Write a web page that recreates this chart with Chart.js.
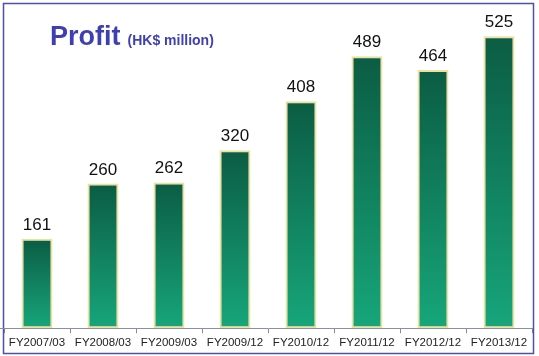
<!DOCTYPE html>
<html>
<head>
<meta charset="utf-8">
<script src="https://cdn.jsdelivr.net/npm/chart.js@4"></script>
<style>
html,body{margin:0;padding:0;background:#fff;}
#wrap{width:539px;height:356px;position:relative;}
</style>
</head>
<body>
<div id="wrap"><canvas id="c" width="539" height="356"></canvas></div>
<script>
const categories = ["FY2007/03","FY2008/03","FY2009/03","FY2009/12","FY2010/12","FY2011/12","FY2012/12","FY2013/12"];
const profit = [161, 260, 262, 320, 408, 489, 464, 525];
const titleMain = "Profit";
const titleSub = "(HK$ million)";

const decor = {
  id: 'decor',
  beforeDraw(chart) {
    const ctx = chart.ctx;
    ctx.save();
    ctx.fillStyle = '#fff';
    ctx.fillRect(0, 0, chart.width, chart.height);
    ctx.restore();
  },
  afterDraw(chart) {
    const ctx = chart.ctx;
    ctx.save();
    ctx.strokeStyle = '#4d4fa8';
    ctx.lineWidth = 1.5;
    ctx.strokeRect(3.5, 3.5, 530, 350);
    const yb = chart.scales.y.getPixelForValue(0);
    ctx.strokeStyle = '#8a8fa8';
    ctx.lineWidth = 1;
    ctx.beginPath();
    ctx.moveTo(0, Math.round(yb) + 0.5);
    ctx.lineTo(chart.chartArea.left, Math.round(yb) + 0.5);
    ctx.stroke();
    ctx.fillStyle = '#3e3fb3';
    ctx.textBaseline = 'alphabetic';
    ctx.textAlign = 'left';
    ctx.font = 'bold 27px "Liberation Sans", Arial, sans-serif';
    ctx.fillText(titleMain, 50, 45);
    const w = ctx.measureText(titleMain).width;
    ctx.font = 'bold 14px "Liberation Sans", Arial, sans-serif';
    ctx.fillText(titleSub, 50 + w + 7, 45);
    const meta = chart.getDatasetMeta(0);
    ctx.fillStyle = '#111';
    ctx.textAlign = 'center';
    ctx.font = '17px "Liberation Sans", Arial, sans-serif';
    meta.data.forEach((bar, i) => {
      ctx.fillText(String(profit[i]), bar.x, bar.y - 9);
    });
    ctx.restore();
  }
};

function barGradient(context) {
  const chart = context.chart;
  const {chartArea} = chart;
  if (!chartArea || context.dataIndex === undefined) return '#128a63';
  const y = chart.scales.y;
  const top = y.getPixelForValue(context.raw);
  const base = y.getPixelForValue(0);
  const g = chart.ctx.createLinearGradient(0, top, 0, base);
  g.addColorStop(0, '#0b5c43');
  g.addColorStop(1, '#17a67b');
  return g;
}

new Chart(document.getElementById('c'), {
  type: 'bar',
  data: {
    labels: categories,
    datasets: [{
      data: profit,
      backgroundColor: barGradient,
      borderColor: '#efe09a',
      borderWidth: 2,
      borderSkipped: false,
      barPercentage: 0.47,
      categoryPercentage: 1.0
    }]
  },
  options: {
    responsive: false,
    animation: false,
    devicePixelRatio: 1,
    layout: {padding: {left: 4, right: 7, top: 10, bottom: 3}},
    plugins: {legend: {display: false}, tooltip: {enabled: false}, title: {display: false}},
    scales: {
      x: {
        offset: true,
        grid: {offset: true, drawOnChartArea: false, drawTicks: true, tickLength: 5, color: '#8a8a9a'},
        border: {display: true, color: '#8a8fa8', width: 1},
        ticks: {color: '#222', font: {family: '"Liberation Sans", Arial, sans-serif', size: 11.5}, padding: 3, maxRotation: 0, autoSkip: false}
      },
      y: {
        display: false,
        min: 0,
        max: 572
      }
    }
  },
  plugins: [decor]
});
</script>
</body>
</html>
